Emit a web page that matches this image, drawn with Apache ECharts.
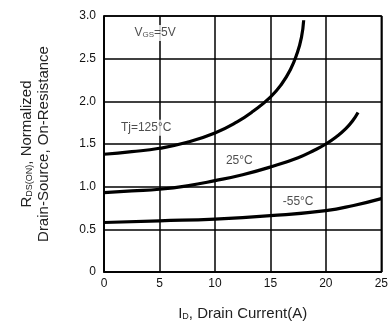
<!DOCTYPE html>
<html>
<head>
<meta charset="utf-8">
<script src="https://cdn.jsdelivr.net/npm/echarts@6/dist/echarts.min.js"></script>
<style>html,body{margin:0;padding:0;background:#fff}#c{width:391px;height:333px}</style>
</head>
<body>
<div id="c"></div>
<script>
// Tj = 125°C  [ID (A), normalized RDS(ON)]
const tj125 = [[0,1.38],[2.5,1.41],[5,1.45],[7.5,1.52],[10,1.63],[12,1.76],[13.5,1.89],[15,2.05],[16,2.20],[16.8,2.37],[17.4,2.56],[17.8,2.75],[18.0,2.95]];
// Tj = 25°C
const tj25 = [[0,0.93],[2.5,0.95],[5,0.97],[7.5,1.01],[10,1.07],[12.5,1.14],[15,1.23],[17.5,1.34],[19,1.43],[20,1.50],[21,1.59],[21.8,1.68],[22.4,1.77],[22.9,1.87]];
// Tj = -55°C
const tjm55 = [[0,0.58],[5,0.60],[10,0.62],[15,0.66],[20,0.72],[22.5,0.78],[25,0.86]];
// annotations [x, y, text]
const notes = [[4.6,2.80,'vgs'],[3.8,1.69,'Tj=125°C'],[12.2,1.31,'25°C'],[17.5,0.82,'-55°C']];
const xTicks = [0,5,10,15,20,25];
const yTicks = [0,0.5,1.0,1.5,2.0,2.5,3.0];

const chart = echarts.init(document.getElementById('c'));
const font = 'Liberation Sans, Arial, sans-serif';
const lineSeries = (d) => ({type:'line', data:d, showSymbol:false, smooth:0.5,
  lineStyle:{color:'#000', width:3.2}, z:3});
chart.setOption({
  animation:false,
  grid:{left:104, right:5, top:16, bottom:61, show:true, borderColor:'#000', borderWidth:1.5},
  xAxis:{type:'value', min:xTicks[0], max:xTicks[xTicks.length-1], interval:5,
    name:'{a|I}{s|D}{a|, Drain Current(A)}', nameLocation:'middle', nameGap:34,
    nameTextStyle:{rich:{a:{fontSize:15, fontFamily:font, color:'#222'}, s:{fontSize:9, fontFamily:font, color:'#222', padding:[6,0,0,0]}}},
    axisLine:{show:true, lineStyle:{color:'#000', width:1.5}}, axisTick:{show:false},
    axisLabel:{fontSize:12, fontFamily:font, color:'#111', margin:6, formatter:v=>String(v)},
    splitLine:{show:true, lineStyle:{color:'#000', width:1.5}}},
  yAxis:{type:'value', min:yTicks[0], max:yTicks[yTicks.length-1], interval:0.5,
    name:'{a|R}{s|DS(ON)}{a|, Normalized}\n{a|Drain-Source, On-Resistance}', nameLocation:'middle', nameGap:52,
    nameTextStyle:{lineHeight:17, rich:{a:{fontSize:15, fontFamily:font, color:'#222', lineHeight:17}, s:{fontSize:9, fontFamily:font, color:'#222', padding:[6,0,0,0], lineHeight:17}}},
    axisLine:{show:true, lineStyle:{color:'#000', width:1.5}}, axisTick:{show:false},
    axisLabel:{fontSize:12, fontFamily:font, color:'#111', margin:8, formatter:v=>v===0?'0':v.toFixed(1)},
    splitLine:{show:true, lineStyle:{color:'#000', width:1.5}}},
  series:[
    lineSeries(tj125), lineSeries(tj25), lineSeries(tjm55),
    {type:'scatter', data:notes, symbolSize:0, z:2,
      label:{show:true, position:'inside', fontFamily:font, fontSize:12, color:'#222', backgroundColor:'#fff', padding:[2,2],
        formatter:p=>p.data[2]==='vgs' ? '{a|V}{s|GS}{a|=5V}' : '{a|'+p.data[2]+'}',
        rich:{a:{fontSize:12, fontFamily:font, color:'#222'}, s:{fontSize:8, fontFamily:font, color:'#222', padding:[4,0,0,0]}}}}
  ]
});
</script>
</body>
</html>
